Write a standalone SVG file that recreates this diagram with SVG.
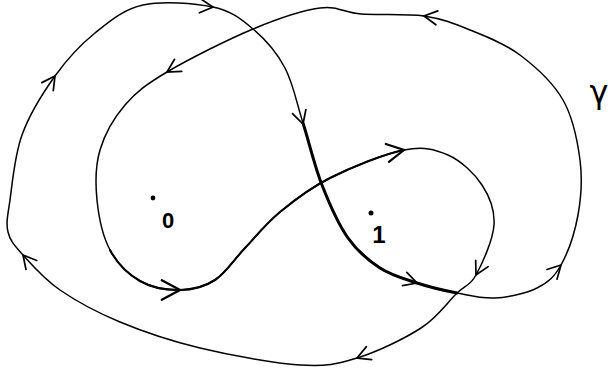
<svg xmlns="http://www.w3.org/2000/svg" xmlns:xlink="http://www.w3.org/1999/xlink" width="608" height="371" viewBox="0 0 608 371">
<style>
.curve{fill:none;stroke:#000;stroke-width:1.5;stroke-linecap:round;stroke-linejoin:round}
.thick{fill:none;stroke:#000;stroke-width:3;stroke-linecap:round}
.mid{fill:none;stroke:#000;stroke-width:2.1;stroke-linecap:round}
.ah{fill:none;stroke:#000;stroke-width:1.7;stroke-linecap:round;stroke-linejoin:miter}
.lbl{font-family:"Liberation Sans",Arial,sans-serif;fill:#000;text-anchor:middle;font-weight:bold}
.glbl{font-family:"DejaVu Sans","Liberation Sans",sans-serif;fill:#000;text-anchor:middle;font-weight:normal}
</style>
<defs>
<path id="ah" class="ah" d="M-13,-7 L0,0 L-13,7"/>
</defs>
<rect width="608" height="371" fill="#fff"/>
<g id="connectors">
<path id="gamma-curve" class="curve" d="M10,200 C12.3,183.8 14.5,155.7 22,135 C29.5,114.3 42.8,93 55,76 C67.2,59 80.3,44.8 95,33 C109.7,21.2 123.3,9.3 143,5 C162.7,0.7 194.7,3 213,7 C231.3,11 241,18.8 253,29 C265,39.2 276.7,52.3 285,68 C293.3,83.7 296.8,103.5 303,123 C309.2,142.5 314.5,165.8 322,185 C329.5,204.2 338.3,224.2 348,238 C357.7,251.8 368.5,260.5 380,268 C391.5,275.5 404.2,278.8 417,283 C429.8,287.2 444,290.5 457,293 C470,295.5 481.7,298.8 495,298 C508.3,297.2 526,293.5 537,288 C548,282.5 554.2,277.2 561,265 C567.8,252.8 574.8,232.5 578,215 C581.2,197.5 582.5,179.2 580,160 C577.5,140.8 573,117.5 563,100 C553,82.5 535.5,66.7 520,55 C504.5,43.3 486,36.5 470,30 C454,23.5 442.2,18.7 424,16 C405.8,13.3 378.3,15.3 361,14 C343.7,12.7 338,5.5 320,8 C302,10.5 278.5,18.3 253,29 C227.5,39.7 188.3,59.3 167,72 C145.7,84.7 136.2,92 125,105 C113.8,118 104.7,134.2 100,150 C95.3,165.8 95.3,183.3 97,200 C98.7,216.7 102.8,236.5 110,250 C117.2,263.5 128.3,274.3 140,281 C151.7,287.7 167.5,290.2 180,290 C192.5,289.8 204.2,287 215,280 C225.8,273 234.2,259.3 245,248 C255.8,236.7 265.8,223.7 280,212 C294.2,200.3 309.3,188.3 330,178 C350.7,167.7 384.3,153.8 404,150 C423.7,146.2 435,149.2 448,155 C461,160.8 474.3,173.3 482,185 C489.7,196.7 495,210 494,225 C493,240 482.2,263.7 476,275 C469.8,286.3 466.2,284.2 457,293 C447.8,301.8 437.7,317.2 421,328 C404.3,338.8 377.2,351.8 357,358 C336.8,364.2 326.2,366.7 300,365 C273.8,363.3 230,355.2 200,348 C170,340.8 143.3,331.7 120,322 C96.7,312.3 76.2,301.2 60,290 C43.8,278.8 31.7,264.7 23,255 C14.3,245.3 10.2,241.2 8,232 C5.8,222.8 7.7,216.2 10,200 Z"/>
<path class="thick" d="M303,123 C309.2,142.5 314.5,165.8 322,185 C329.5,204.2 338.3,224.2 348,238 C357.7,251.8 368.5,260.5 380,268 C391.5,275.5 404.2,278.8 417,283 C429.8,287.2 444,290.5 457,293"/>
<path class="mid" d="M110,250 C117.2,263.5 128.3,274.3 140,281 C151.7,287.7 167.5,290.2 180,290 C192.5,289.8 204.2,287 215,280 C225.8,273 234.2,259.3 245,248 C255.8,236.7 265.8,223.7 280,212 C294.2,200.3 309.3,188.3 330,178 C350.7,167.7 384.3,153.8 404,150"/>
<use xlink:href="#ah" href="#ah" transform="translate(55,76) rotate(-55)"/>
<use xlink:href="#ah" href="#ah" transform="translate(213,7) rotate(5)"/>
<use xlink:href="#ah" href="#ah" transform="translate(303,124) rotate(73)"/>
<use xlink:href="#ah" href="#ah" transform="translate(417,283) rotate(18)"/>
<use xlink:href="#ah" href="#ah" transform="translate(561,265) rotate(-46)"/>
<use xlink:href="#ah" href="#ah" transform="translate(424,16) rotate(188)"/>
<use xlink:href="#ah" href="#ah" transform="translate(167,72) rotate(149)"/>
<use xlink:href="#ah" href="#ah" transform="translate(180,290) rotate(0) scale(1.4)"/>
<use xlink:href="#ah" href="#ah" transform="translate(404,150) rotate(-10) scale(1.3)"/>
<use xlink:href="#ah" href="#ah" transform="translate(476,275) rotate(117)"/>
<use xlink:href="#ah" href="#ah" transform="translate(357,358) rotate(158)"/>
<use xlink:href="#ah" href="#ah" transform="translate(23,255) rotate(-130)"/>
</g>
<g id="point-0">
<circle cx="153" cy="198" r="2.4" fill="#000"/>
<text class="lbl" x="168" y="228" font-size="22">0</text>
</g>
<g id="point-1">
<circle cx="371" cy="213" r="2.5" fill="#000"/>
<text class="lbl" x="379" y="243" font-size="24">1</text>
</g>
<g id="label-gamma">
<text class="glbl" x="599" y="103" font-size="32">γ</text>
</g>
</svg>
